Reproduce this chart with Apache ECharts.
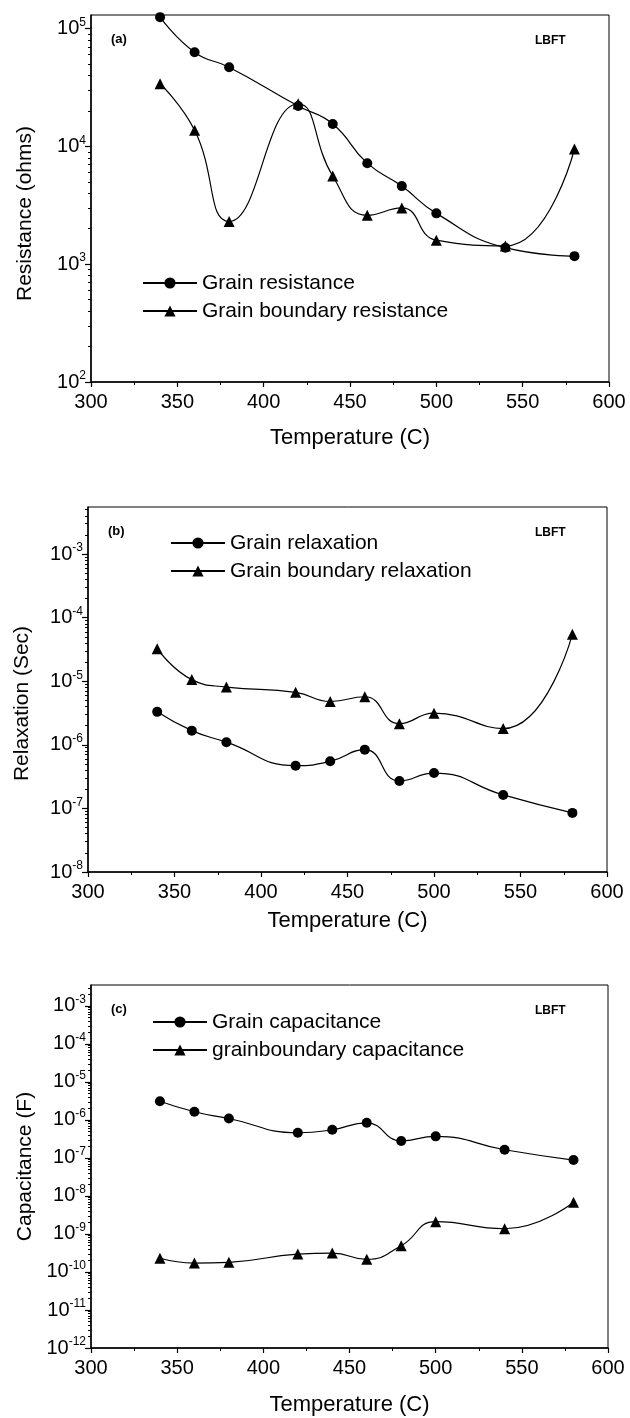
<!DOCTYPE html>
<html>
<head>
<meta charset="utf-8">
<script src="https://cdn.jsdelivr.net/npm/echarts@6/dist/echarts.min.js"></script>
<style>
  html, body { margin: 0; padding: 0; background: #fff; }
  #chart { width: 630px; height: 1418px; }
</style>
</head>
<body>
<div id="chart"></div>
<script>
// temperatures (C)
const temps = [340, 360, 380, 420, 440, 460, 480, 500, 540, 580];

// (a) resistance, ohms
const grainRes = [1.25e5, 6.3e4, 4.7e4, 2.2e4, 1.55e4, 7.2e3, 4.6e3, 2.7e3, 1.38e3, 1.17e3];
const boundaryRes = [3.4e4, 1.37e4, 2.3e3, 2.3e4, 5.6e3, 2.6e3, 3.0e3, 1.6e3, 1.43e3, 9.5e3];

// (b) relaxation, s
const grainRelax = [3.3e-6, 1.67e-6, 1.1e-6, 4.7e-7, 5.5e-7, 8.4e-7, 2.7e-7, 3.6e-7, 1.63e-7, 8.5e-8];
const boundaryRelax = [3.25e-5, 1.06e-5, 8.1e-6, 6.7e-6, 4.8e-6, 5.7e-6, 2.15e-6, 3.15e-6, 1.8e-6, 5.5e-5];

// (c) capacitance, F
const grainCap = [3.1e-6, 1.64e-6, 1.09e-6, 4.6e-7, 5.5e-7, 8.4e-7, 2.8e-7, 3.7e-7, 1.64e-7, 8.8e-8];
const boundaryCap = [2.3e-10, 1.72e-10, 1.8e-10, 2.95e-10, 3.15e-10, 2.15e-10, 4.9e-10, 2.1e-9, 1.37e-9, 6.8e-9];

// decade exponents shown on each y axis
const expA = [2, 3, 4, 5];
const expB = [-8, -7, -6, -5, -4, -3];
const expC = [-12, -11, -10, -9, -8, -7, -6, -5, -4, -3];

const xTicks = [300, 350, 400, 450, 500, 550, 600];

const FONT = 'Liberation Sans, Arial, sans-serif';

const myChart = echarts.init(document.getElementById('chart'));

const pairs = (ys) => temps.map((t, i) => [t, Math.log10(ys[i])]);

// minor ticks 2..9 x 10^n inside the range
function minorTicks(lo, hi) {
  const out = [];
  for (let n = Math.floor(lo); n <= Math.ceil(hi); n++) {
    for (let k = 2; k <= 9; k++) {
      const v = n + Math.log10(k);
      if (v > lo && v < hi) out.push(v);
    }
  }
  return out;
}

const panels = [
  { top: 15, left: 91, right: 21, height: 367, lo: 2, hi: 5.115, exps: expA,
    yName: 'Resistance (ohms)', namePad: [0, 30, 0, 0], xGap: 45,
    legendLeft: 142, legendTop: 272 },
  { top: 507, left: 88, right: 23, height: 365, lo: -8, hi: -2.26, exps: expB,
    yName: 'Relaxation (Sec)', namePad: [0, 28, 0, 0], xGap: 38,
    legendLeft: 170, legendTop: 532 },
  { top: 985, left: 91, right: 22, height: 363, lo: -12, hi: -2.45, exps: expC,
    yName: 'Capacitance (F)', namePad: [0, 0, 0, 0], xGap: 46,
    legendLeft: 152, legendTop: 1011 }
];

const grids = [], xAxes = [], yAxes = [];
panels.forEach((p, i) => {
  grids.push({ left: p.left, right: p.right, top: p.top, height: p.height,
    show: true, borderColor: '#000', borderWidth: 1, backgroundColor: 'transparent' });
  xAxes.push({
    type: 'value', gridIndex: i, min: 300, max: 600, interval: 50,
    name: 'Temperature (C)', nameLocation: 'middle', nameGap: p.xGap,
    nameTextStyle: { fontFamily: FONT, fontSize: 22, color: '#000' },
    axisLine: { lineStyle: { color: '#000', width: 1.5 } },
    axisTick: { length: 5, lineStyle: { color: '#000', width: 1.2 } },
    minorTick: { show: true, splitNumber: 2, length: 3, lineStyle: { color: '#000' } },
    axisLabel: { fontFamily: FONT, fontSize: 20, color: '#000', margin: 10,
      customValues: xTicks },
    splitLine: { show: false }
  });
  // major ticks + labels
  yAxes.push({
    type: 'value', gridIndex: i, min: p.lo, max: p.hi, position: 'left',
    name: p.yName, nameLocation: 'middle', nameGap: 55, nameRotate: 90,
    nameTextStyle: { fontFamily: FONT, fontSize: 21, color: '#000', padding: p.namePad },
    axisLine: { show: true, lineStyle: { color: '#000', width: 1.5 } },
    axisTick: { show: true, length: 6, customValues: p.exps, lineStyle: { color: '#000', width: 1.2 } },
    axisLabel: {
      customValues: p.exps, margin: 5, fontFamily: FONT, color: '#000',
      formatter: (v) => '{b|10}{s|' + Math.round(v) + '}',
      rich: {
        b: { fontFamily: FONT, fontSize: 20, color: '#000' },
        s: { fontFamily: FONT, fontSize: 12, color: '#000', padding: [0, 0, 12, 0] }
      }
    },
    splitLine: { show: false }
  });
  // minor log ticks
  yAxes.push({
    type: 'value', gridIndex: i, min: p.lo, max: p.hi, position: 'left', offset: 0,
    axisLine: { show: false },
    axisTick: { show: true, length: 3, customValues: minorTicks(p.lo, p.hi), lineStyle: { color: '#000' } },
    axisLabel: { show: false },
    splitLine: { show: false }
  });
});

const lineSeries = (name, ys, idx, symbol, size) => ({
  name, type: 'line', xAxisIndex: idx, yAxisIndex: idx * 2,
  data: pairs(ys), smooth: 0.5, symbol, symbolSize: size,
  lineStyle: { color: '#000', width: 1.2 },
  itemStyle: { color: '#000' },
  emphasis: { disabled: true }
});

const series = [
  lineSeries('Grain resistance', grainRes, 0, 'circle', 10),
  lineSeries('Grain boundary resistance', boundaryRes, 0, 'triangle', 11),
  lineSeries('Grain relaxation', grainRelax, 1, 'circle', 10),
  lineSeries('Grain boundary relaxation', boundaryRelax, 1, 'triangle', 11),
  lineSeries('Grain capacitance', grainCap, 2, 'circle', 10),
  lineSeries('grainboundary capacitance', boundaryCap, 2, 'triangle', 11)
];

const legends = panels.map((p, i) => ({
  orient: 'vertical', left: p.legendLeft, top: p.legendTop, padding: 0,
  data: [series[i * 2].name, series[i * 2 + 1].name],
  itemWidth: 54, itemHeight: 14, itemGap: 6,
  textStyle: { fontFamily: FONT, fontSize: 21, color: '#000', lineHeight: 22 },
  selectedMode: false
}));

const tags = [];
panels.forEach((p, i) => {
  tags.push({ type: 'text', left: p.left + 20, top: p.top + 18,
    style: { text: ['(a)', '(b)', '(c)'][i], font: 'bold 13px ' + FONT, fill: '#000' } });
  tags.push({ type: 'text', left: 535, top: p.top + 20,
    style: { text: 'LBFT', font: 'bold 12px ' + FONT, fill: '#000' } });
});

myChart.setOption({
  animation: false,
  backgroundColor: '#fff',
  grid: grids,
  xAxis: xAxes,
  yAxis: yAxes,
  legend: legends,
  graphic: tags,
  series
});
</script>
</body>
</html>
